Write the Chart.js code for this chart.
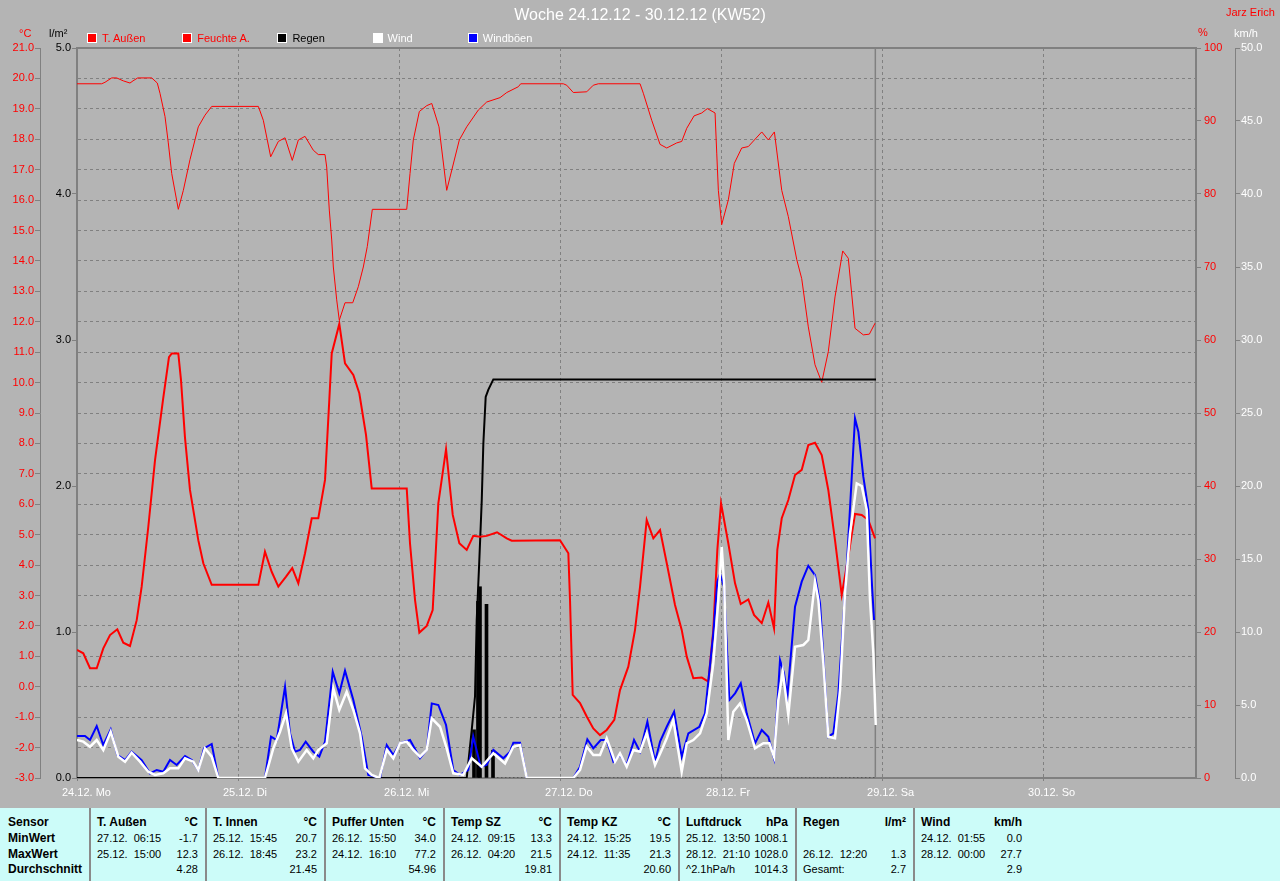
<!DOCTYPE html>
<html lang="de">
<head>
<meta charset="utf-8">
<title>Woche 24.12.12 - 30.12.12 (KW52)</title>
<script src="https://cdn.jsdelivr.net/npm/chart.js@4.4.1/dist/chart.umd.min.js"></script>
<style>
  html, body { margin: 0; padding: 0; }
  body { width: 1280px; height: 881px; overflow: hidden; background: #b4b4b4; font-family: Arial, "Liberation Sans", sans-serif; }
  #wrap { position: relative; width: 1280px; height: 808px; }
  #chart { position: absolute; left: 0; top: 0; }
  .txt { position: absolute; font-size: 11px; line-height: 14px; white-space: nowrap; transform: translateY(-50%); }
  #title { left: 0; width: 1280px; text-align: center; font-size: 16px; line-height: 20px; }
  .leg { position: absolute; top: 33px; height: 10px; }
  .leg i { position: absolute; left: 0; top: 0; width: 8px; height: 8px; border: 1px solid #fff; }
  .leg span { position: absolute; left: 15px; top: -2px; font-size: 11px; line-height: 14px; white-space: nowrap; }
  #stats { position: absolute; left: 0; top: 808px; width: 1280px; height: 73px; background: #ccfcf9; }
  .col { position: absolute; top: 0; height: 73px; box-sizing: border-box; padding: 7px 7px 0 6px; }
  .col.sep { border-left: 2px solid #8a8a8a; }
  .row { height: 15.8px; line-height: 15.8px; display: flex; justify-content: space-between; font-size: 11px; white-space: pre; color: #000; }
  .row.bold { font-weight: bold; font-size: 12px; }
</style>
</head>
<body>
<div id="wrap">
  <canvas id="chart" width="1280" height="808"></canvas>
</div>
<div id="stats"></div>

<script>
// Zeitachse: Stunden ab 24.12. 00:00
const dayLabels = ['24.12. Mo', '25.12. Di', '26.12. Mi', '27.12. Do', '28.12. Fr', '29.12. Sa', '30.12. So'];
const xMaxHours = 166.8;
const nowHours = 119.0;

// T. Außen (°C)
const tempHours = [
    0, 0.94, 1.94, 2.94, 3.92, 4.92, 6.01, 6.90, 7.90, 8.90,
    9.64, 10.63, 11.63, 12.82, 13.71, 14.12, 15.10, 15.50, 16.10, 16.84,
    18.08, 18.83, 20.08, 27.03, 28.02, 29.02, 30.01, 31.16, 32.09, 32.99,
    33.99, 34.99, 35.97, 36.97, 37.61, 37.97, 39.10, 39.95, 41.19, 42.08,
    43.08, 43.93, 49.15, 49.64, 50.39, 51.03, 52.13, 53.02, 53.86, 55.01,
    56.01, 56.99, 58.09, 59.07, 60.07, 61.07, 62.61, 64.06, 64.80, 72.00,
    73.24, 73.49, 73.89, 74.98, 75.98, 76.96, 77.96, 78.96, 80.09, 80.94,
    82.18, 83.18, 83.93, 84.92, 85.91, 86.91, 87.91, 89.14, 90.14, 90.89,
    91.87, 93.13, 94.11, 94.85, 95.45, 96.00, 97.09, 98.09, 98.94, 100.07,
    100.92, 102.07, 103.05, 103.90, 104.39, 105.05, 106.03, 107.03, 108.03, 109.01,
    110.01, 111.01, 111.99, 112.99, 113.99, 114.97, 115.97, 116.97, 117.96, 118.96
];
const tempValues = [
    1.21, 1.10, 0.61, 0.61, 1.26, 1.70, 1.89, 1.45, 1.34, 2.19,
    3.29, 5.26, 7.45, 9.43, 10.84, 10.96, 10.96, 10.09, 8.18, 6.47,
    4.82, 4.06, 3.35, 3.35, 4.44, 3.78, 3.29, 3.62, 3.90, 3.40,
    4.39, 5.54, 5.54, 6.80, 9.43, 10.96, 11.93, 10.63, 10.25, 9.65,
    8.28, 6.52, 6.52, 4.71, 2.85, 1.78, 2.00, 2.52, 6.03, 7.81,
    5.65, 4.72, 4.50, 4.96, 4.93, 4.96, 5.08, 4.88, 4.80, 4.82,
    4.39, 2.85, -0.27, -0.54, -0.98, -1.37, -1.59, -1.42, -1.09, -0.11,
    0.66, 1.87, 3.29, 5.48, 4.88, 5.15, 4.06, 2.69, 1.87, 0.99,
    0.28, 0.30, 0.17, 1.87, 4.50, 6.03, 4.71, 3.40, 2.72, 2.87,
    2.36, 2.09, 2.77, 1.92, 4.50, 5.54, 6.14, 6.96, 7.13, 7.95,
    8.02, 7.62, 6.47, 4.82, 3.02, 4.28, 5.68, 5.65, 5.48, 4.88
];

// Feuchte A. (%)
const humHours = [
    0, 3.68, 4.17, 5.17, 5.92, 6.90, 7.90, 8.35, 9.05, 11.14,
    11.97, 12.37, 13.12, 13.61, 14.12, 15.10, 15.85, 16.84, 18.08, 19.08,
    20.08, 27.03, 27.77, 28.87, 30.01, 31.01, 32.09, 32.99, 33.99, 35.22,
    35.97, 36.97, 37.22, 37.61, 37.97, 38.21, 38.71, 39.10, 39.95, 41.10,
    41.93, 42.68, 43.27, 44.02, 49.15, 49.64, 50.13, 51.03, 52.13, 52.88,
    53.96, 55.11, 56.99, 58.09, 59.82, 61.07, 63.06, 64.06, 65.79, 66.14,
    72.49, 73.00, 73.98, 75.98, 76.96, 77.71, 83.93, 84.42, 85.67, 86.91,
    87.91, 89.40, 90.14, 90.89, 91.98, 93.13, 93.96, 95.11, 95.36, 95.60,
    96.10, 97.09, 97.98, 99.08, 100.07, 102.07, 103.05, 103.95, 105.05, 106.03,
    107.29, 108.03, 109.01, 110.01, 111.01, 111.99, 112.99, 114.14, 114.97, 115.97,
    117.21, 118.11, 118.96
];
const humValues = [
    95.1, 95.1, 95.3, 95.9, 95.9, 95.5, 95.2, 95.5, 95.9, 95.9,
    95.2, 93.8, 90.6, 87.0, 82.8, 77.9, 80.5, 84.7, 89.2, 90.8,
    92.0, 92.0, 90.1, 85.1, 87.2, 87.7, 84.6, 87.4, 87.9, 86.0,
    85.4, 85.4, 83.7, 77.8, 73.7, 70.0, 65.5, 62.7, 65.1, 65.1,
    67.3, 70.0, 72.8, 77.9, 77.9, 82.8, 87.4, 91.3, 92.1, 92.4,
    89.2, 80.5, 87.4, 89.2, 91.5, 92.6, 93.2, 93.9, 94.7, 95.1,
    95.1, 94.9, 93.9, 94.0, 94.9, 95.1, 95.1, 93.8, 90.1, 86.8,
    86.3, 87.0, 87.2, 89.0, 90.7, 91.1, 91.7, 91.1, 85.6, 80.5,
    75.8, 79.2, 84.2, 86.3, 86.5, 88.5, 87.4, 88.5, 80.5, 76.9,
    71.0, 68.4, 61.8, 56.6, 54.2, 58.4, 65.9, 72.2, 71.2, 61.6,
    60.7, 60.8, 62.3
];

// Regen (l/m²): Summe und Einzelwerte
const rainSumHours = [0, 58.09, 58.84, 59.33, 59.58, 59.97, 60.33, 60.57, 60.92, 61.32, 62.06, 119.10];
const rainSumValues = [0, 0, 0.33, 0.56, 1.08, 1.49, 1.90, 2.29, 2.61, 2.66, 2.73, 2.73];
const rainBarHours = [59.18, 59.77, 60.07, 61.04, 62.01];
const rainBarValues = [0.33, 1.21, 1.31, 1.19, 0.19];
const rainZeroHours = [62.06, 119.10];
const rainZeroValues = [0, 0];

// Wind (km/h)
const windHours = [
    0, 0.94, 1.94, 2.94, 3.92, 5.02, 6.16, 7.16, 8.15, 9.39,
    10.63, 11.63, 12.86, 13.86, 15.10, 16.10, 17.34, 18.08, 19.08, 20.08,
    21.06, 28.02, 29.26, 30.26, 31.16, 32.01, 32.99, 34.24, 35.22, 35.97,
    37.22, 38.21, 39.10, 40.20, 41.19, 42.19, 42.93, 43.93, 45.06, 46.17,
    47.15, 48.15, 49.15, 50.13, 51.13, 52.13, 52.88, 54.11, 55.11, 56.09,
    57.58, 58.84, 60.33, 62.06, 63.80, 65.04, 66.04, 67.04, 73.98, 74.98,
    75.98, 76.96, 77.96, 78.96, 80.20, 80.94, 81.94, 82.93, 83.93, 84.92,
    86.16, 87.16, 87.91, 88.89, 90.14, 90.89, 91.87, 92.87, 93.87, 94.85,
    95.60, 96.10, 96.49, 97.09, 97.83, 98.83, 99.83, 101.07, 102.31, 103.20,
    103.90, 104.54, 105.20, 106.03, 107.03, 108.27, 109.01, 110.01, 110.51, 111.25,
    111.99, 112.99, 113.74, 114.48, 115.23, 116.23, 116.97, 117.72, 118.21, 118.71,
    119.06
];
const windValues = [
    2.60, 2.49, 2.14, 2.60, 1.92, 3.17, 1.46, 1.12, 1.73, 1.12,
    0.43, 0.21, 0.32, 0.66, 0.66, 1.35, 1.12, 0.55, 2.03, 1.46,
    0, 0, 2.03, 3.17, 4.43, 2.03, 1.12, 1.92, 1.35, 1.92,
    2.38, 6.14, 4.66, 5.91, 4.66, 3.06, 0.66, 0.21, 0, 1.92,
    1.35, 2.38, 2.49, 1.92, 1.46, 1.92, 4.09, 3.51, 2.03, 0.32,
    0.21, 1.35, 0.77, 1.69, 1.00, 2.14, 2.26, 0, 0, 0.55,
    2.14, 1.58, 1.58, 2.72, 1.12, 1.69, 0.77, 1.92, 1.80, 3.06,
    0.89, 1.92, 2.72, 3.97, 0.43, 2.38, 2.60, 3.06, 4.43, 7.86,
    12.19, 15.84, 13.10, 2.60, 4.54, 5.11, 3.97, 2.03, 2.38, 2.38,
    1.46, 5.34, 7.28, 4.32, 8.99, 9.11, 9.45, 13.45, 12.19, 7.86,
    2.83, 2.72, 6.03, 12.65, 16.76, 20.18, 20.00, 18.36, 12.19, 8.54,
    3.63
];

// Windböen (km/h)
const gustHours = [
    0, 1.19, 1.94, 2.94, 3.92, 5.02, 6.01, 7.16, 8.15, 9.64,
    10.88, 11.88, 12.86, 13.86, 14.86, 16.10, 17.10, 18.08, 18.93, 20.08,
    21.06, 28.02, 28.92, 29.77, 31.01, 31.75, 32.50, 33.24, 34.09, 35.22,
    36.12, 36.97, 38.12, 39.10, 39.95, 41.19, 42.44, 43.42, 45.17, 46.17,
    47.15, 48.15, 49.64, 51.13, 52.13, 52.88, 53.86, 55.01, 56.09, 57.09,
    58.33, 59.07, 60.17, 61.07, 62.06, 63.55, 64.55, 65.04, 66.04, 67.04,
    73.98, 74.98, 76.07, 76.96, 78.07, 78.96, 79.95, 80.94, 81.94, 83.03,
    83.93, 85.02, 86.16, 86.91, 87.91, 89.00, 90.14, 91.13, 92.77, 93.61,
    94.85, 95.45, 95.85, 96.45, 97.24, 98.09, 98.94, 99.83, 101.07, 102.07,
    103.05, 103.90, 104.79, 105.39, 105.88, 107.03, 108.03, 109.01, 110.01, 110.76,
    111.99, 112.74, 113.49, 114.74, 115.97, 116.47, 117.21, 117.96, 118.46, 118.81
];
const gustValues = [
    2.88, 2.88, 2.60, 3.56, 2.26, 3.33, 1.58, 1.23, 1.80, 1.23,
    0.32, 0.55, 0.43, 1.23, 0.89, 1.51, 1.23, 0.55, 2.03, 2.33,
    0, 0, 2.83, 2.60, 6.25, 3.06, 1.80, 1.92, 2.49, 1.80,
    1.46, 2.49, 7.28, 5.80, 7.35, 5.34, 2.83, 0.21, 0, 2.26,
    1.58, 2.38, 2.60, 1.35, 1.92, 5.11, 5.00, 3.63, 0.55, 0.21,
    0.55, 2.83, 0.77, 0.89, 1.92, 1.35, 1.80, 2.42, 2.42, 0,
    0, 0.77, 2.65, 2.03, 2.60, 2.60, 1.12, 1.58, 0.89, 2.60,
    1.80, 3.86, 1.12, 2.49, 3.51, 4.54, 1.46, 3.06, 3.51, 4.43,
    9.91, 13.45, 14.00, 13.10, 5.34, 5.80, 6.48, 4.43, 2.38, 3.29,
    2.83, 1.35, 8.08, 7.17, 5.57, 11.73, 13.45, 14.54, 13.90, 11.96,
    2.83, 3.06, 5.80, 14.47, 24.63, 23.72, 20.64, 18.36, 13.56, 10.82
];

// Legende
const legendLabels = ['T. Außen', 'Feuchte A.', 'Regen', 'Wind', 'Windböen'];
const legendBoxColors = ['#ff0000', '#ff0000', '#000000', '#ffffff', '#0000ff'];
const legendTextColors = ['#ff0000', '#ff0000', '#000000', '#ffffff', '#ffffff'];

// Tabelle unten
const statCols = [
    { x: 0, w: 89, rows: [['Sensor', ''], ['MinWert', ''], ['MaxWert', ''], ['Durchschnitt', '']], allBold: true },
    { x: 89, w: 116, rows: [['T. Außen', '°C'], ['27.12.  06:15', '-1.7'], ['25.12.  15:00', '12.3'], ['', '4.28']] },
    { x: 205, w: 119, rows: [['T. Innen', '°C'], ['25.12.  15:45', '20.7'], ['26.12.  18:45', '23.2'], ['', '21.45']] },
    { x: 324, w: 119, rows: [['Puffer Unten', '°C'], ['26.12.  15:50', '34.0'], ['24.12.  16:10', '77.2'], ['', '54.96']] },
    { x: 443, w: 116, rows: [['Temp SZ', '°C'], ['24.12.  09:15', '13.3'], ['26.12.  04:20', '21.5'], ['', '19.81']] },
    { x: 559, w: 119, rows: [['Temp KZ', '°C'], ['24.12.  15:25', '19.5'], ['24.12.  11:35', '21.3'], ['', '20.60']] },
    { x: 678, w: 117, rows: [['Luftdruck', 'hPa'], ['25.12.  13:50', '1008.1'], ['28.12.  21:10', '1028.0'], ['^2.1hPa/h', '1014.3']] },
    { x: 795, w: 118, rows: [['Regen', 'l/m²'], ['', ''], ['26.12.  12:20', '1.3'], ['Gesamt:', '2.7']] },
    { x: 913, w: 116, rows: [['Wind', 'km/h'], ['24.12.  01:55', '0.0'], ['28.12.  00:00', '27.7'], ['', '2.9']] }
];

const GRID_GRAY = '#808080';
const FONT = { family: 'Arial, "Liberation Sans", sans-serif', size: 11 };

const toPoints = (hours, values) => hours.map((h, i) => ({ x: h, y: values[i] }));

// --- Texte über dem Diagramm ---
const wrap = document.getElementById('wrap');
function addText(text, x, y, color, opts = {}) {
    const el = document.createElement('div');
    el.className = 'txt';
    el.textContent = text;
    el.style.left = x + 'px';
    el.style.top = y + 'px';
    el.style.color = color;
    if (opts.id) el.id = opts.id;
    wrap.appendChild(el);
    return el;
}
addText('Woche 24.12.12 - 30.12.12 (KW52)', 0, 15, '#ffffff', { id: 'title' });
addText('Jarz Erich', 1226, 12, '#ff0000');
addText('°C', 19, 33, '#ff0000');
addText('l/m²', 49, 33, '#000000');
addText('%', 1198, 32, '#ff0000');
addText('km/h', 1234, 33, '#ffffff');

legendLabels.forEach((label, i) => {
    const item = document.createElement('div');
    item.className = 'leg';
    item.style.left = (87 + i * 95.2) + 'px';
    item.innerHTML = `<i style="background:${legendBoxColors[i]}"></i><span style="color:${legendTextColors[i]}">${label}</span>`;
    wrap.appendChild(item);
});

// --- Tabelle ---
const stats = document.getElementById('stats');
statCols.forEach((col, ci) => {
    const div = document.createElement('div');
    div.className = 'col' + (ci > 0 ? ' sep' : '');
    div.style.left = col.x + 'px';
    div.style.width = col.w + 'px';
    if (ci === 0) div.style.paddingLeft = '8px';
    col.rows.forEach((r, ri) => {
        const row = document.createElement('div');
        row.className = 'row' + ((ri === 0 || col.allBold) ? ' bold' : '');
        const a = document.createElement('span'); a.textContent = r[0];
        const b = document.createElement('span'); b.textContent = r[1];
        row.appendChild(a); row.appendChild(b);
        div.appendChild(row);
    });
    stats.appendChild(div);
});

// --- Rahmen um die Zeichenfläche ---
const framePlugin = {
    id: 'frame',
    beforeDatasetsDraw(chart) {
        const { ctx, chartArea: a } = chart;
        ctx.save();
        ctx.strokeStyle = GRID_GRAY;
        ctx.lineWidth = 2;
        ctx.strokeRect(a.left, a.top, a.right - a.left, a.bottom - a.top);
        ctx.restore();
    }
};

const fixWidth = w => scale => { scale.width = w; };

new Chart(document.getElementById('chart'), {
    type: 'line',
    data: {
        datasets: [
            { label: 'Wind', data: toPoints(windHours, windValues), yAxisID: 'yW', borderColor: '#ffffff', borderWidth: 2.5, order: 0 },
            { label: 'Windböen', data: toPoints(gustHours, gustValues), yAxisID: 'yW', borderColor: '#0000ff', borderWidth: 2, order: 1 },
            { label: 'T. Außen', data: toPoints(tempHours, tempValues), yAxisID: 'yT', borderColor: '#ff0000', borderWidth: 2, order: 2 },
            { label: 'Regen', data: toPoints(rainSumHours, rainSumValues), yAxisID: 'yR', borderColor: '#000000', borderWidth: 2, order: 3 },
            { type: 'bar', label: 'Regen Intervall', data: toPoints(rainBarHours, rainBarValues), yAxisID: 'yR', backgroundColor: '#000000', borderWidth: 0, barThickness: 3, grouped: false, order: 4 },
            { label: 'Feuchte A.', data: toPoints(humHours, humValues), yAxisID: 'yH', borderColor: '#ff0000', borderWidth: 1, order: 5 },
            { label: 'Regen 0', data: toPoints(rainZeroHours, rainZeroValues), yAxisID: 'yR', borderColor: '#000000', borderWidth: 1, borderDash: [1, 3], order: 6 },
            { label: 'Jetzt', data: [{ x: nowHours, y: -3 }, { x: nowHours, y: 21 }], yAxisID: 'yT', borderColor: GRID_GRAY, borderWidth: 1.5, order: 7 }
        ]
    },
    options: {
        responsive: false,
        animation: false,
        devicePixelRatio: 1,
        layout: { padding: { top: 48, left: 0, right: 0, bottom: 0 } },
        elements: { point: { radius: 0 }, line: { tension: 0 } },
        plugins: { legend: { display: false }, title: { display: false }, tooltip: { enabled: false } },
        scales: {
            x: {
                type: 'linear', min: 0, max: xMaxHours, offset: false,
                afterFit: scale => { scale.height = 30; },
                ticks: {
                    stepSize: 24, includeBounds: false, autoSkip: false, maxRotation: 0,
                    align: 'start', labelOffset: -15, padding: 3, color: '#ffffff', font: FONT,
                    callback: v => dayLabels[Math.round(v / 24)] ?? ''
                },
                grid: { offset: false, color: GRID_GRAY, tickLength: 5, tickBorderDash: [3, 3] },
                border: { display: false, dash: [3, 3] }
            },
            yT: {
                position: 'left', weight: 2, min: -3, max: 21,
                afterFit: fixWidth(40),
                ticks: { stepSize: 1, autoSkip: false, padding: 1, color: '#ff0000', font: FONT, callback: v => v.toFixed(1) },
                grid: { color: GRID_GRAY, tickLength: 5 },
                border: { display: true, color: GRID_GRAY, width: 1, dash: [3, 3] }
            },
            yR: {
                position: 'left', weight: 1, min: 0, max: 5,
                afterFit: fixWidth(37),
                ticks: { stepSize: 1, autoSkip: false, padding: 1, color: '#000000', font: FONT, callback: v => v.toFixed(1) },
                grid: { drawOnChartArea: false, color: GRID_GRAY, tickLength: 5 },
                border: { display: false }
            },
            yH: {
                position: 'right', weight: 1, min: 0, max: 100,
                afterFit: fixWidth(39),
                ticks: { stepSize: 10, autoSkip: false, padding: 3, color: '#ff0000', font: FONT },
                grid: { drawOnChartArea: false, color: GRID_GRAY, tickLength: 5 },
                border: { display: false }
            },
            yW: {
                position: 'right', weight: 2, min: 0, max: 50,
                afterFit: fixWidth(45),
                ticks: { stepSize: 5, autoSkip: false, padding: 1, color: '#ffffff', font: FONT, callback: v => v.toFixed(1) },
                grid: { drawOnChartArea: false, color: GRID_GRAY, tickLength: 5 },
                border: { display: true, color: GRID_GRAY, width: 1 }
            }
        }
    },
    plugins: [framePlugin]
});
</script>
</body>
</html>
